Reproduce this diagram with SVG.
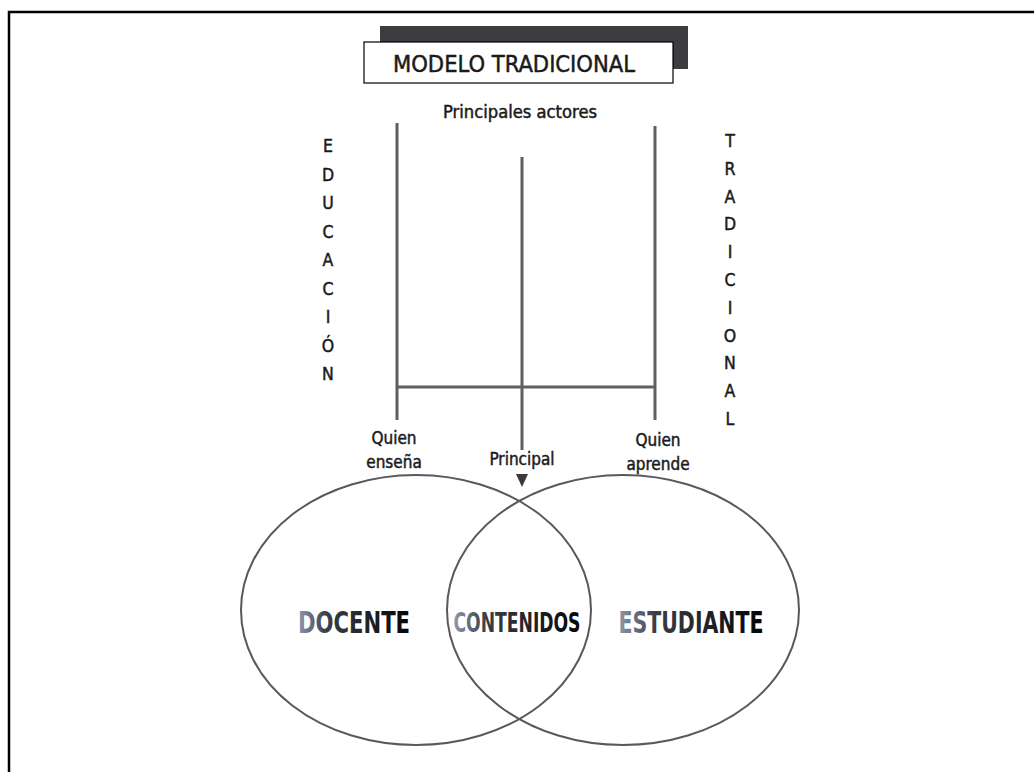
<svg xmlns="http://www.w3.org/2000/svg" width="1034" height="772" viewBox="0 0 1034 772">
<defs>
<style>
.t{font-family:"DejaVu Sans Condensed","DejaVu Sans","Liberation Sans",sans-serif;fill:#1a1a1a;stroke:#1a1a1a;stroke-width:0.45}
.lbl{font-size:17px;text-anchor:middle}
.vl{font-size:17.5px;text-anchor:middle}
.ln{stroke:#5e5f63;stroke-width:3;fill:none}
.el{stroke:#59595d;stroke-width:2;fill:none}
.big{font-family:"DejaVu Sans Condensed","Liberation Sans Narrow",sans-serif;font-weight:bold;text-anchor:middle;fill:url(#wg)}
</style>
<linearGradient id="wg" x1="0" y1="0" x2="1" y2="0">
<stop offset="0" stop-color="#8e98ac"/>
<stop offset="0.25" stop-color="#3a3e47"/>
<stop offset="1" stop-color="#050505"/>
</linearGradient>
</defs>
<rect width="1034" height="772" fill="#ffffff"/>
<g id="frame">
<path d="M9,772 V12 H1034" fill="none" stroke="#000" stroke-width="2.5"/>
</g>
<g id="title">
<rect x="380" y="26" width="308" height="43" fill="#3d3d41"/>
<rect x="364" y="42" width="309" height="41" fill="#fff" stroke="#000" stroke-width="1.2"/>
<text class="t" x="514" y="72" font-size="23" text-anchor="middle" textLength="242" lengthAdjust="spacingAndGlyphs">MODELO TRADICIONAL</text>
</g>
<g id="subtitle">
<text class="t lbl" x="520" y="118" textLength="154" lengthAdjust="spacingAndGlyphs">Principales actores</text>
</g>
<g id="connectors">
<line class="ln" x1="397" y1="123" x2="397" y2="420"/>
<line class="ln" x1="522" y1="157" x2="522" y2="450"/>
<line class="ln" x1="655" y1="126" x2="655" y2="420"/>
<line class="ln" x1="397" y1="387" x2="655" y2="387"/>
<polygon points="516,474 528,474 522,487" fill="#3a3a3d"/>
</g>
<g id="educacion">
<text class="t vl" x="328" y="152">E</text>
<text class="t vl" x="328" y="180.5">D</text>
<text class="t vl" x="328" y="209">U</text>
<text class="t vl" x="328" y="237.5">C</text>
<text class="t vl" x="328" y="266">A</text>
<text class="t vl" x="328" y="294.5">C</text>
<text class="t vl" x="328" y="323">I</text>
<text class="t vl" x="328" y="351.5">Ó</text>
<text class="t vl" x="328" y="380">N</text>
</g>
<g id="tradicional">
<text class="t vl" x="730" y="147">T</text>
<text class="t vl" x="730" y="174.8">R</text>
<text class="t vl" x="730" y="202.6">A</text>
<text class="t vl" x="730" y="230.4">D</text>
<text class="t vl" x="730" y="258.2">I</text>
<text class="t vl" x="730" y="286">C</text>
<text class="t vl" x="730" y="313.8">I</text>
<text class="t vl" x="730" y="341.6">O</text>
<text class="t vl" x="730" y="369.4">N</text>
<text class="t vl" x="730" y="397.2">A</text>
<text class="t vl" x="730" y="425">L</text>
</g>
<g id="quien-ensena">
<text class="t lbl" x="394" y="444">Quien</text>
<text class="t lbl" x="394" y="468">enseña</text>
</g>
<g id="principal">
<text class="t lbl" x="522" y="465">Principal</text>
</g>
<g id="quien-aprende">
<text class="t lbl" x="658" y="446">Quien</text>
<text class="t lbl" x="658" y="470">aprende</text>
</g>
<g id="docente">
<ellipse class="el" cx="416" cy="610" rx="175" ry="135"/>
<text class="big" x="354" y="633" font-size="30" textLength="112" lengthAdjust="spacingAndGlyphs">DOCENTE</text>
</g>
<g id="estudiante">
<ellipse class="el" cx="623" cy="610" rx="176" ry="135"/>
<text class="big" x="691" y="633" font-size="30" textLength="145" lengthAdjust="spacingAndGlyphs">ESTUDIANTE</text>
</g>
<g id="contenidos">
<text class="big" x="517" y="632" font-size="26" textLength="127" lengthAdjust="spacingAndGlyphs">CONTENIDOS</text>
</g>
</svg>
